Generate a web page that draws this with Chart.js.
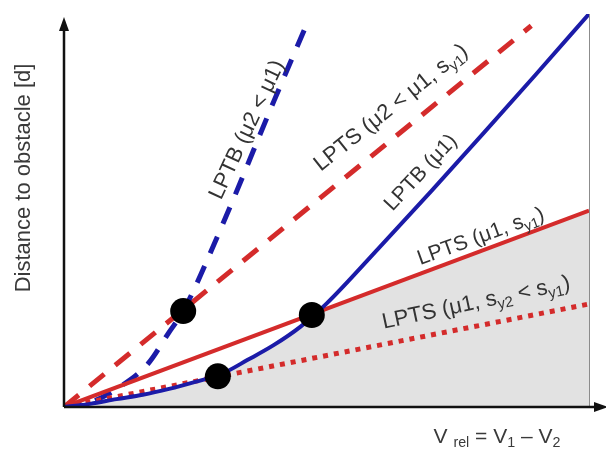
<!DOCTYPE html>
<html>
<head>
<meta charset="utf-8">
<script src="https://cdn.jsdelivr.net/npm/chart.js@4"></script>
<style>
  html, body { margin: 0; padding: 0; background: #fff; }
</style>
</head>
<body>
<canvas id="myChart" width="606" height="453"></canvas>
<script>
// relative speed v_rel (arbitrary units) and distance to obstacle d
const speedBrake = [0, 0.5, 1, 1.5, 2, 2.5, 3, 3.5, 4, 4.5, 5, 6, 7, 8, 9, 10];
const lptbMu1 = [0, 0.08, 0.2, 0.31, 0.46, 0.64, 0.84, 1.2, 1.58, 2.04, 2.63, 4.05, 5.5, 6.98, 8.48, 10.0];

const speedBrakeLow = [0, 0.5, 1, 1.6, 2, 2.27, 3, 4, 4.6];
const lptbMu2 = [0, 0.12, 0.46, 1.1, 1.9, 2.44, 4.58, 7.79, 9.67];

const speedSteerLow = [0, 8.9];
const lptsMu2 = [0, 9.7];

const speedSteer = [0, 10];
const lptsMu1 = [0, 5.0];
const lptsMu1Sy2 = [0, 2.62];

// where the braking and steering curves cross
const crossX = [2.27, 4.72, 2.93];
const crossY = [2.44, 2.34, 0.78];

const FONT = '"Liberation Sans", Arial, sans-serif';
const BLUE = '#1b1ba8';
const RED = '#d42b2b';

const pts = (xs, ys) => xs.map((x, i) => ({x: x, y: ys[i]}));

// grey zone: below braking curve up to the crossing, then below the steering line
const safeZone = [];
speedBrake.forEach((v, i) => { if (v < crossX[1]) safeZone.push({x: v, y: lptbMu1[i]}); });
safeZone.push({x: crossX[1], y: crossY[1]});
safeZone.push({x: speedSteer[1], y: lptsMu1[1]});

const notes = [
  {at: [3.49, 7.05], angle: -65, size: 22, parts: [['LPTB (μ2 < μ1)']]},
  {at: [6.23, 7.61], angle: -38.6, size: 22, parts: [['LPTS (μ2 < μ1, s'], ['y1', 1], [')']]},
  {at: [6.8, 5.96], angle: -47, size: 21, parts: [['LPTB (μ1)']]},
  {at: [7.94, 4.33], angle: -20, size: 21, parts: [['LPTS (μ1, s'], ['y1', 1], [')']]},
  {at: [7.85, 2.65], angle: -12, size: 22, parts: [['LPTS (μ1, s'], ['y2', 1], [' < s'], ['y1', 1], [')']]}
];

function drawRich(ctx, parts, size) {
  const sub = size * 0.68;
  let w = 0;
  parts.forEach(p => {
    ctx.font = (p[1] ? sub : size) + 'px ' + FONT;
    w += ctx.measureText(p[0]).width;
  });
  let x = -w / 2;
  parts.forEach(p => {
    ctx.font = (p[1] ? sub : size) + 'px ' + FONT;
    ctx.fillText(p[0], x, p[1] ? size * 0.3 : 0);
    x += ctx.measureText(p[0]).width;
  });
}

const axesAndNotes = {
  id: 'axesAndNotes',
  afterDatasetsDraw(chart) {
    const ctx = chart.ctx;
    const a = chart.chartArea;
    const xs = chart.scales.x, ys = chart.scales.y;
    const x0 = xs.getPixelForValue(0), y0 = ys.getPixelForValue(0);
    ctx.save();

    // right border of the plot
    ctx.strokeStyle = '#8c8c8c';
    ctx.lineWidth = 1;
    ctx.beginPath();
    ctx.moveTo(a.right + 0.5, a.top);
    ctx.lineTo(a.right + 0.5, y0);
    ctx.stroke();

    // axes with arrow heads
    ctx.strokeStyle = '#111';
    ctx.fillStyle = '#111';
    ctx.lineWidth = 2.5;
    ctx.beginPath();
    ctx.moveTo(x0, y0);
    ctx.lineTo(x0, 28);
    ctx.moveTo(x0, y0);
    ctx.lineTo(597, y0);
    ctx.stroke();
    ctx.beginPath();
    ctx.moveTo(x0, 17);
    ctx.lineTo(x0 - 5, 31);
    ctx.lineTo(x0 + 5, 31);
    ctx.closePath();
    ctx.fill();
    ctx.beginPath();
    ctx.moveTo(608, y0);
    ctx.lineTo(594, y0 - 5);
    ctx.lineTo(594, y0 + 5);
    ctx.closePath();
    ctx.fill();

    // curve labels
    ctx.fillStyle = '#333';
    ctx.textBaseline = 'middle';
    ctx.textAlign = 'left';
    notes.forEach(n => {
      ctx.save();
      ctx.translate(xs.getPixelForValue(n.at[0]), ys.getPixelForValue(n.at[1]));
      ctx.rotate(n.angle * Math.PI / 180);
      drawRich(ctx, n.parts, n.size);
      ctx.restore();
    });

    // axis titles
    ctx.fillStyle = '#3a3a3a';
    ctx.save();
    ctx.translate(24, 178);
    ctx.rotate(-Math.PI / 2);
    drawRich(ctx, [['Distance to obstacle [d]']], 22);
    ctx.restore();

    ctx.save();
    ctx.translate(497, 437);
    drawRich(ctx, [['V '], ['rel', 1], [' = V'], ['1', 1], [' – V'], ['2', 1]], 21);
    ctx.restore();

    ctx.restore();
  }
};

new Chart(document.getElementById('myChart'), {
  type: 'line',
  data: {
    datasets: [
      {
        label: 'crossings',
        data: pts(crossX, crossY),
        showLine: false,
        pointRadius: 13,
        pointBackgroundColor: '#000',
        pointBorderWidth: 0,
        order: 0
      },
      {
        label: 'LPTB (μ1)',
        data: pts(speedBrake, lptbMu1),
        borderColor: BLUE,
        borderWidth: 4,
        cubicInterpolationMode: 'monotone',
        order: 1
      },
      {
        label: 'LPTS (μ1, sy1)',
        data: pts(speedSteer, lptsMu1),
        borderColor: RED,
        borderWidth: 4,
        order: 2
      },
      {
        label: 'LPTS (μ1, sy2 < sy1)',
        data: pts(speedSteer, lptsMu1Sy2),
        borderColor: RED,
        borderWidth: 5,
        borderDash: [5, 6],
        order: 3
      },
      {
        label: 'LPTB (μ2 < μ1)',
        data: pts(speedBrakeLow, lptbMu2),
        borderColor: BLUE,
        borderWidth: 5,
        borderDash: [18, 14],
        cubicInterpolationMode: 'monotone',
        order: 4
      },
      {
        label: 'LPTS (μ2 < μ1, sy1)',
        data: pts(speedSteerLow, lptsMu2),
        borderColor: RED,
        borderWidth: 5,
        borderDash: [19, 14],
        order: 5
      },
      {
        label: 'safe zone',
        data: safeZone,
        borderWidth: 0,
        backgroundColor: '#e2e2e2',
        fill: 'origin',
        tension: 0,
        order: 10
      }
    ]
  },
  options: {
    responsive: false,
    animation: false,
    layout: { padding: { left: 64, right: 17, top: 14, bottom: 46 } },
    elements: { point: { radius: 0 } },
    scales: {
      x: { type: 'linear', min: 0, max: 10, display: false },
      y: { type: 'linear', min: 0, max: 10, display: false }
    },
    plugins: {
      legend: { display: false },
      tooltip: { enabled: false }
    }
  },
  plugins: [axesAndNotes]
});
</script>
</body>
</html>
